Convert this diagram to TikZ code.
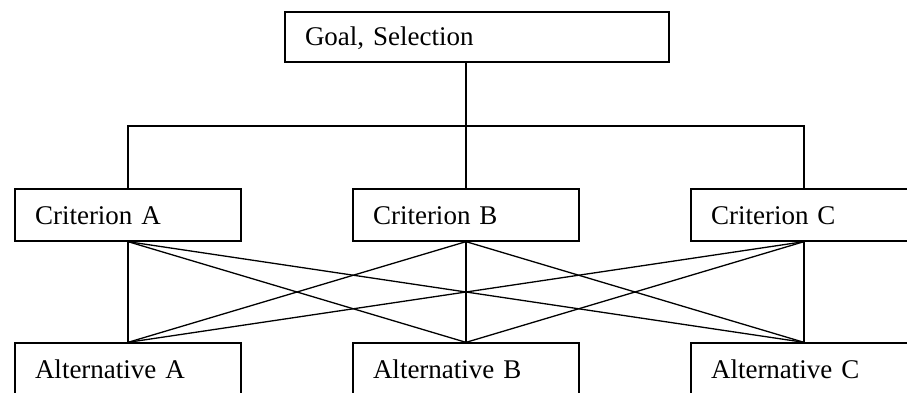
\documentclass[tikz,border=0pt]{standalone}
\usepackage{fontspec}
\setmainfont{Liberation Serif}
\begin{document}
\begin{tikzpicture}[x=1pt,y=-1pt,
  line width=1.3pt,
  box/.style={draw, rectangle, minimum height=52pt, inner xsep=20pt, inner ysep=0pt,
    text width=186pt, align=left, text height=18pt, text depth=0pt,
    font=\fontsize{27}{31}\selectfont},
  goalbox/.style={box, minimum height=50pt, text width=344pt},
  link/.style={draw, line width=1.3pt}]
  \useasboundingbox (0,0) rectangle (907,393);
  \clip (0,0) rectangle (907,393);

  % hierarchy levels
  \node[goalbox] (goal) at (477,37) {Goal, Selection};

  \node[box] (cA) at (128,215) {Criterion A};
  \node[box] (cB) at (466,215) {Criterion B};
  \node[box] (cC) at (804,215) {Criterion C};

  \node[box] (aA) at (128,369) {Alternative A};
  \node[box] (aB) at (466,369) {Alternative B};
  \node[box] (aC) at (804,369) {Alternative C};

  % goal to criteria
  \coordinate (bus) at (466,126);
  \draw[link] (goal.south -| cB) -- (cB |- bus);
  \draw[link] (cA.north) -- (cA |- bus) -- (cC |- bus) -- (cC.north);
  \draw[link] (cB |- bus) -- (cB.north);

  % every criterion to every alternative
  \foreach \c in {cA,cB,cC}
    \foreach \a in {aA,aB,aC}
      \draw[link] (\c.south) -- (\a.north);
\end{tikzpicture}
\end{document}
